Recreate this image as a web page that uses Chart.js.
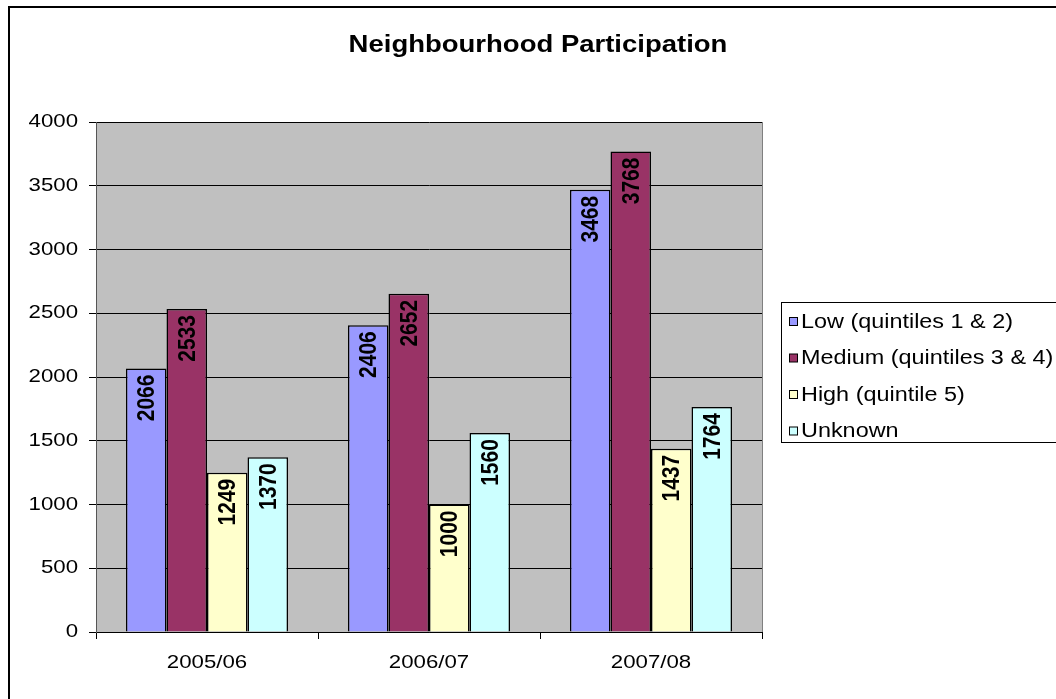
<!DOCTYPE html>
<html lang="en">

<head>
  <meta charset="UTF-8">
  <title>Neighbourhood Participation</title>
  <style>
    body { margin: 0; background: #fff; }
    #grafico { display: block; }
  </style>
</head>

<body>
  <canvas id="grafico" width="1056" height="699"></canvas>

  <script src="https://cdn.jsdelivr.net/npm/chart.js"></script>
  <script>
    const anos = ["2005/06", "2006/07", "2007/08"];
    const low = [2066, 2406, 3468];
    const medium = [2533, 2652, 3768];
    const high = [1249, 1000, 1437];
    const unknown = [1370, 1560, 1764];
    const nomesSeries = ["Low (quintiles 1 & 2)", "Medium (quintiles 3 & 4)", "High (quintile 5)", "Unknown"];
    const coresSeries = ["#9999FF", "#993366", "#FFFFCC", "#CCFFFF"];

    const fonte = "'Liberation Sans', Arial, sans-serif";
    const esticar = 1.17; // o original parece esticado na horizontal

    // escreve texto esticado na horizontal
    function texto(ctx, str, x, y, alinhamento) {
      ctx.save();
      ctx.translate(x, y);
      ctx.scale(esticar, 1);
      ctx.textAlign = alinhamento;
      ctx.textBaseline = 'middle';
      ctx.fillText(str, 0, 0);
      ctx.restore();
    }

    const fundoPlugin = {
      id: 'fundo',
      beforeDraw(chart) {
        const ctx = chart.ctx;
        const a = chart.chartArea;
        ctx.save();
        ctx.fillStyle = '#C0C0C0';
        ctx.fillRect(a.left, a.top, a.right - a.left, a.bottom - a.top);
        ctx.strokeStyle = '#808080';
        ctx.lineWidth = 1;
        ctx.beginPath();
        ctx.moveTo(a.right + 0.5, a.top);
        ctx.lineTo(a.right + 0.5, a.bottom);
        ctx.stroke();
        ctx.strokeStyle = '#000';
        ctx.lineWidth = 2;
        ctx.strokeRect(9, 7, 1100, 800);
        ctx.restore();
      },
      afterDraw(chart) {
        const ctx = chart.ctx;
        ctx.save();
        ctx.fillStyle = '#000';

        // titulo
        ctx.font = "bold 23.5px " + fonte;
        texto(ctx, "Neighbourhood Participation", 538, 46, 'center');

        // rotulos dos eixos
        ctx.font = "19px " + fonte;
        const escY = chart.scales.y;
        escY.ticks.forEach(t => {
          texto(ctx, String(t.value), 78, escY.getPixelForValue(t.value), 'right');
        });
        const escX = chart.scales.x;
        anos.forEach((ano, i) => {
          texto(ctx, ano, escX.getPixelForValue(i), 663, 'center');
        });

        // legenda
        ctx.strokeStyle = '#000';
        ctx.lineWidth = 1;
        ctx.strokeRect(781.5, 302.5, 300, 140);
        ctx.font = "20px " + fonte;
        chart.data.datasets.forEach((ds, i) => {
          const y = 322 + i * 36.5;
          ctx.fillStyle = ds.backgroundColor;
          ctx.fillRect(789.5, y - 4.5, 8, 8);
          ctx.strokeRect(789.5, y - 4.5, 8, 8);
          ctx.fillStyle = '#000';
          texto(ctx, ds.label, 801, y, 'left');
        });
        ctx.restore();
      },
      afterDatasetsDraw(chart) {
        const ctx = chart.ctx;
        ctx.save();
        ctx.fillStyle = '#000';
        ctx.font = "bold 21px " + fonte;
        ctx.textAlign = 'right';
        ctx.textBaseline = 'middle';
        chart.data.datasets.forEach((ds, i) => {
          chart.getDatasetMeta(i).data.forEach((bar, j) => {
            ctx.save();
            ctx.translate(bar.x + 1, bar.y + 6);
            ctx.scale(esticar, 1);
            ctx.rotate(-Math.PI / 2);
            ctx.fillText(String(ds.data[j]), 0, 0);
            ctx.restore();
          });
        });
        ctx.restore();
      }
    };

    const series = [low, medium, high, unknown];

    new Chart(document.getElementById('grafico').getContext('2d'), {
      type: 'bar',
      data: {
        labels: anos,
        datasets: series.map((valores, i) => ({
          label: nomesSeries[i],
          data: valores,
          backgroundColor: coresSeries[i],
          borderColor: '#000',
          borderWidth: 1.5,
          categoryPercentage: 0.73,
          barPercentage: 1.0
        }))
      },
      options: {
        responsive: false,
        animation: false,
        layout: { padding: { top: 122, right: 294, bottom: 0, left: 0 } },
        plugins: {
          legend: { display: false },
          title: { display: false },
          tooltip: { enabled: false }
        },
        scales: {
          x: {
            offset: true,
            grid: {
              offset: true,
              drawOnChartArea: false,
              drawTicks: true,
              tickLength: 7,
              color: '#000'
            },
            border: { color: '#000', width: 1 },
            ticks: { display: false },
            afterFit(scale) { scale.height = 67; }
          },
          y: {
            min: 0,
            max: 4000,
            grid: { color: '#000', lineWidth: 1, tickLength: 7 },
            border: { color: '#555', width: 1 },
            ticks: { stepSize: 500, display: false },
            afterFit(scale) { scale.width = 96; }
          }
        }
      },
      plugins: [fundoPlugin]
    });
  </script>
</body>

</html>
